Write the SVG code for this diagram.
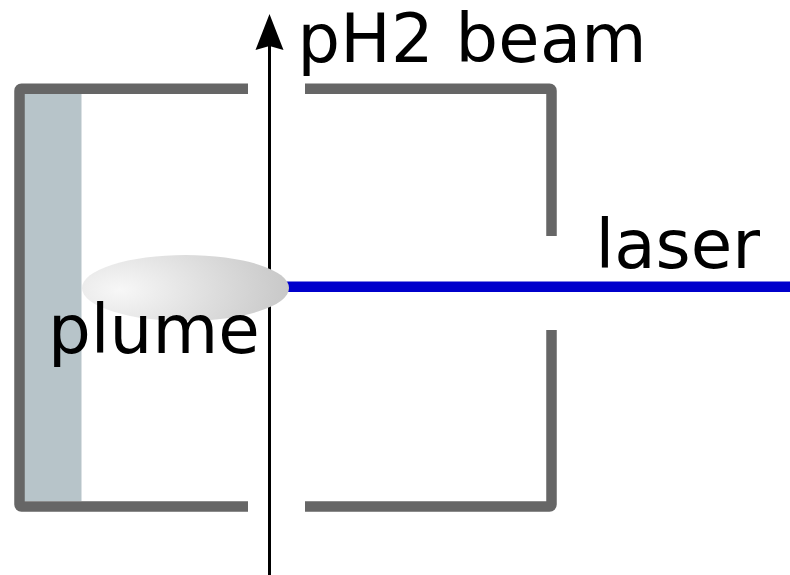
<svg xmlns="http://www.w3.org/2000/svg" width="790" height="575" viewBox="0 0 790 575">
<style>
.frame{fill:none;stroke:#666;stroke-width:10.5}
.label{font-family:"DejaVu Sans",sans-serif;font-size:67.5px;fill:#000}
#beam-label text{font-size:67px;letter-spacing:.3px}
</style>
<defs>
<radialGradient id="plumeFill" gradientUnits="userSpaceOnUse" cx="0" cy="0" r="1" gradientTransform="translate(120 290) scale(170 90)">
<stop offset="0" stop-color="#f7f7f7"/><stop offset="1" stop-color="#c8c8c8"/>
</radialGradient>
</defs>
<rect width="790" height="575" fill="#fff"/>
<g id="target"><rect x="24" y="93" width="57.500" height="408" fill="#b7c4c9"/></g>
<g id="chamber">
<path class="frame" d="M248 88.700H21.500A2 2 0 0 0 19.500 90.700V504.500A2 2 0 0 0 21.500 506.500H248"/>
<path class="frame" d="M305 88.700H549.500A2 2 0 0 1 551.500 90.700V236M551.500 330V504.500A2 2 0 0 1 549.500 506.500H305"/>
</g>
<g id="connectors">
<path d="M269.500 575V46" fill="none" stroke="#000" stroke-width="3"/>
<path d="M269.500 14L283.500 50L269.500 46L255.500 50Z" fill="#000"/>
<path d="M285 286.800H790" fill="none" stroke="#0000cc" stroke-width="10.500"/>
</g>
<g id="plume"><ellipse cx="185.500" cy="288" rx="103.500" ry="33" fill="url(#plumeFill)"/>
<text class="label" x="48" y="353">plume</text></g>
<g id="beam-label"><text class="label" x="297.500" y="62">pH2 beam</text></g>
<g id="laser-label"><text class="label" x="595.500" y="268">laser</text></g>
</svg>
